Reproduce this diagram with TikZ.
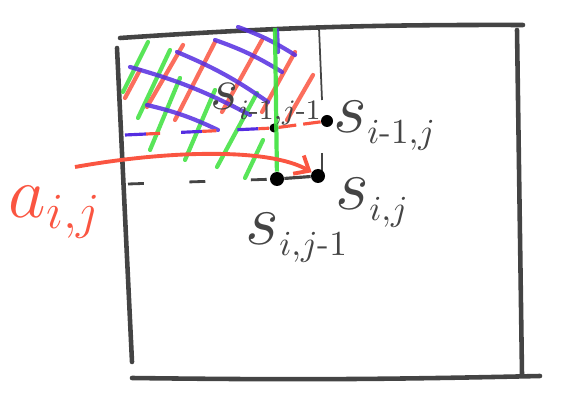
\documentclass[tikz,border=0pt]{standalone}
\usepackage{amsmath}
\usepackage{tikz}
\usetikzlibrary{arrows.meta}

\definecolor{penred}{RGB}{250,85,65}
\definecolor{pengreen}{RGB}{60,225,60}
\definecolor{penblue}{RGB}{85,45,225}
\definecolor{pengray}{RGB}{68,68,68}

\newcommand{\smin}{\text{-}}

\tikzset{
  boxline/.style={pengray,line width=2.6pt,line cap=round},
  hatch/.style={line width=2.4pt,line cap=round,opacity=0.85},
  dot/.style={circle,fill=black,minimum size=2.4mm,inner sep=0pt},
  slabel/.style={pengray,anchor=base west,inner sep=0pt,scale=2,font=\fontsize{20}{24}\selectfont},
}

\begin{document}
\begin{tikzpicture}[x=0.02cm, y=-0.02cm]
	\useasboundingbox (0,0) rectangle (563,404);
	% the table
	\draw [boxline] (120,38) to[bend left=2] (523,25);
	\draw [boxline] (132,378) to[bend right=1] (540,376);
	\draw [boxline] (117,48) -- (132,362);
	\draw [boxline] (517,30) -- (522,375);
	\draw [pengray,line width=1pt] (319,28) -- (322,100);
	\draw [pengray,line width=1pt] (322,153) -- (322,172);
	% hatching
	\foreach \xa/\ya/\xb/\yb in {123/92/148/42, 138/118/170/50, 150/150/180/78, 185/160/215/90, 217/167/257/93, 245/178/263/140}
	\draw [hatch,pengreen] (\xa,\ya) -- (\xb,\yb);
	\foreach \xa/\ya/\xb/\yb in {125/98/140/70, 147/107/183/45, 175/120/215/42, 222/112/262/40, 262/112/295/52, 287/120/313/75}
	\draw [hatch,penred] (\xa,\ya) -- (\xb,\yb);
	\foreach \xa/\ya/\xb/\yb in {130/67/250/115, 177/52/268/102, 215/40/282/72, 238/27/295/55, 147/105/218/130}
	\draw [hatch,penblue] (\xa,\ya) to[bend left=6] (\xb,\yb);
	\draw [hatch,penblue] (277,30) -- (278,52);
	% cells
	\node [dot,minimum size=1.8mm] (d1) at (274,128) {};
	\node [dot] (d2) at (327,121) {};
	\node [dot,minimum size=2.8mm] (d3) at (277,179) {};
	\node [dot,minimum size=2.8mm] (d4) at (318,176) {};
	\coordinate (top) at (275,28);
	\coordinate (row1) at (125,135);
	\coordinate (row2) at (128,184);
	\draw [pengreen,line width=2.4pt,opacity=0.9] (top) -- (d3);
	\draw [penblue,line width=1.8pt,dash pattern=on 12pt off 20pt] (row1) -- (d1);
	\draw [penred,line width=1.8pt,dash pattern=on 8pt off 24pt,dash phase=-12pt] (row1) -- (d1);
	\draw [penred,line width=1.8pt,dash pattern=on 10pt off 4pt] (d1) -- (d2);
	\draw [pengray,line width=1.6pt,dash pattern=on 9pt off 26pt] (row2) -- (d3);
	\draw [pengray,line width=1.8pt] (d3) -- (d4);
	% labels
	\node [slabel] (sij1) at (333,133) {$s_{\scriptscriptstyle i\smin 1,j}$};
	\node [slabel] (sij) at (335,210) {$s_{\scriptscriptstyle i,j}$};
	\node [slabel] (sij2) at (245,245) {$s_{\scriptscriptstyle i,j\smin 1}$};
	\node [slabel,font=\fontsize{16}{18}\selectfont] (sij3) at (210,110) {$s_{\scriptscriptstyle i\smin 1,j\smin 1}$};
	\node [penred,anchor=base west,inner sep=0pt,scale=2,font=\fontsize{22}{26}\selectfont] (aij) at (8,218) {$a_{i,j}$};
	\coordinate (astart) at (75,167);
	\draw [penred,line width=2.2pt,-{Straight Barb[length=7pt,width=12pt]}] (astart) .. controls (170,150) and (270,148) .. (d4);
\end{tikzpicture}
\end{document}
